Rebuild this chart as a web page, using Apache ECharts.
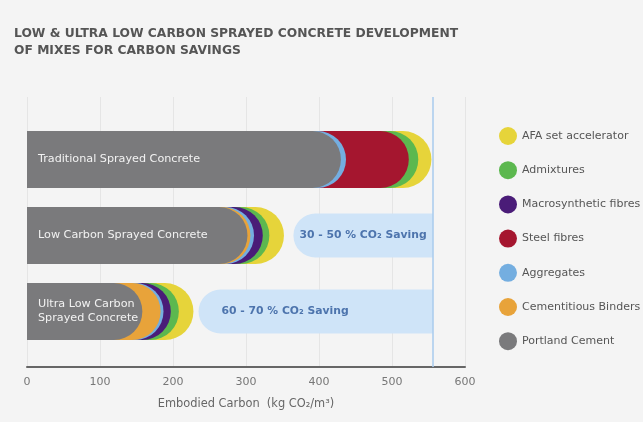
<!DOCTYPE html>
<html><head><meta charset="utf-8">
<script src="https://cdn.jsdelivr.net/npm/echarts@6/dist/echarts.min.js"></script>
<style>html,body{margin:0;padding:0;background:#f4f4f4}#c{width:643px;height:422px}</style>
</head><body><div id="c"></div>
<script>
// Categories (top to bottom)
const categories = ['Traditional Sprayed Concrete', 'Low Carbon Sprayed Concrete', 'Ultra Low Carbon\nSprayed Concrete'];
// Component contributions (kg CO2/m3), inner to outer
const portlandCement = [430, 302, 158];
const cementitiousBinders = [0, 4, 25];
const aggregates = [7, 5, 4];
const steelFibres = [86, 0, 0];
const macrosyntheticFibres = [0, 12, 10];
const admixtures = [13, 9, 11];
const afaAccelerator = [18, 20, 20];
// Saving bands: start and end (kg CO2/m3)
const savingStart = [null, 365, 235];
const savingEnd = [null, 556, 556];
const savingLabels = ['', '30 - 50 % CO₂ Saving', '60 - 70 % CO₂ Saving'];
const referenceLine = 556;
const xTicks = [0, 100, 200, 300, 400, 500, 600];

const components = [
  {name: 'Portland Cement', vals: portlandCement, color: '#7a7a7c'},
  {name: 'Cementitious Binders', vals: cementitiousBinders, color: '#e8a33a'},
  {name: 'Aggregates', vals: aggregates, color: '#74aee0'},
  {name: 'Steel fibres', vals: steelFibres, color: '#a5162f'},
  {name: 'Macrosynthetic fibres', vals: macrosyntheticFibres, color: '#4a1c78'},
  {name: 'Admixtures', vals: admixtures, color: '#5cb84f'},
  {name: 'AFA set accelerator', vals: afaAccelerator, color: '#e6d43a'}
];
// cumulative
const cum = [0, 0, 0];
components.forEach(c => {
  c.cum = c.vals.map((v, i) => { cum[i] += v; return v > 0 ? cum[i] : '-'; });
});

const FONT = 'DejaVu Sans';
const R = 28.5;
const barSeries = components.slice().reverse().map(c => ({
  name: c.name, type: 'bar', xAxisIndex: 0, yAxisIndex: 0,
  barWidth: 57, barGap: '-100%',
  data: c.cum,
  itemStyle: {color: c.color, borderRadius: [0, R, R, 0]},
  label: c.name === 'Portland Cement' ? {
    show: true, position: 'insideLeft', distance: 11,
    formatter: p => categories[p.dataIndex],
    color: '#f2f2f2', fontSize: 11.2, fontFamily: FONT, lineHeight: 14
  } : {show: false},
  z: 3
}));

const savingDistances = [0, 6, 23];
const savingBase = {
  type: 'bar', xAxisIndex: 0, yAxisIndex: 1, stack: 'sav', barWidth: 44,
  data: savingStart.map(v => v == null ? '-' : v),
  itemStyle: {color: 'rgba(0,0,0,0)'}, silent: true, z: 2
};
const savingBar = {
  type: 'bar', xAxisIndex: 0, yAxisIndex: 1, stack: 'sav', barWidth: 44,
  data: savingEnd.map((v, i) => v == null ? '-' : {
    value: v - savingStart[i],
    label: {distance: savingDistances[i]}
  }),
  itemStyle: {color: '#cfe4f8', borderRadius: [22, 0, 0, 22]},
  label: {show: true, position: 'insideLeft', formatter: p => savingLabels[p.dataIndex],
    color: '#4d74ad', fontSize: 10.8, fontWeight: 'bold', fontFamily: FONT},
  z: 2
};

const chart = echarts.init(document.getElementById('c'));
chart.setOption({
  animation: false,
  backgroundColor: '#f4f4f4',
  title: {
    text: 'LOW & ULTRA LOW CARBON SPRAYED CONCRETE DEVELOPMENT\nOF MIXES FOR CARBON SAVINGS',
    left: 14, top: 25, padding: 0,
    textStyle: {fontSize: 12.3, fontWeight: 'bold', color: '#555', fontFamily: FONT, lineHeight: 17}
  },
  legend: {
    orient: 'vertical', left: 499, top: 127, itemWidth: 18, itemHeight: 18, itemGap: 16.2,
    padding: 0,
    icon: 'circle',
    data: components.slice().reverse().map(c => c.name),
    textStyle: {color: '#555', fontSize: 11, fontFamily: FONT},
    selectedMode: false
  },
  grid: [
    {left: 27, right: 178, top: 121.5, height: 228},
    {left: 27, right: 178, top: 97, height: 270}
  ],
  xAxis: [
    {gridIndex: 0, type: 'value', min: 0, max: 600, show: false},
    {gridIndex: 1, type: 'value', min: 0, max: 600, interval: 100,
     axisLine: {show: true, lineStyle: {color: '#666', width: 2}},
     axisTick: {show: false},
     axisLabel: {color: '#777', fontSize: 11, margin: 10, fontFamily: FONT,
       formatter: v => xTicks.includes(v) ? String(v) : ''},
     splitLine: {show: true, lineStyle: {color: '#e5e5e5', width: 1}},
     name: 'Embodied Carbon  (kg CO₂/m³)', nameLocation: 'middle', nameGap: 32,
     nameTextStyle: {color: '#666', fontSize: 11.4, fontFamily: FONT}}
  ],
  yAxis: [
    {gridIndex: 0, type: 'category', data: categories, inverse: true, show: false},
    {gridIndex: 0, type: 'category', data: categories, inverse: true, show: false},
    {gridIndex: 1, type: 'value', min: 0, max: 1, show: false}
  ],
  series: [
    {
      type: 'scatter', xAxisIndex: 1, yAxisIndex: 2, data: [[referenceLine, 0.5]], symbolSize: 0,
      silent: true,
      markLine: {symbol: 'none', silent: true, label: {show: false},
        lineStyle: {color: '#a9cbee', width: 1.5, type: 'solid'},
        data: [{xAxis: referenceLine}]}
    },
    savingBase, savingBar
  ].concat(barSeries)
});
</script></body></html>
